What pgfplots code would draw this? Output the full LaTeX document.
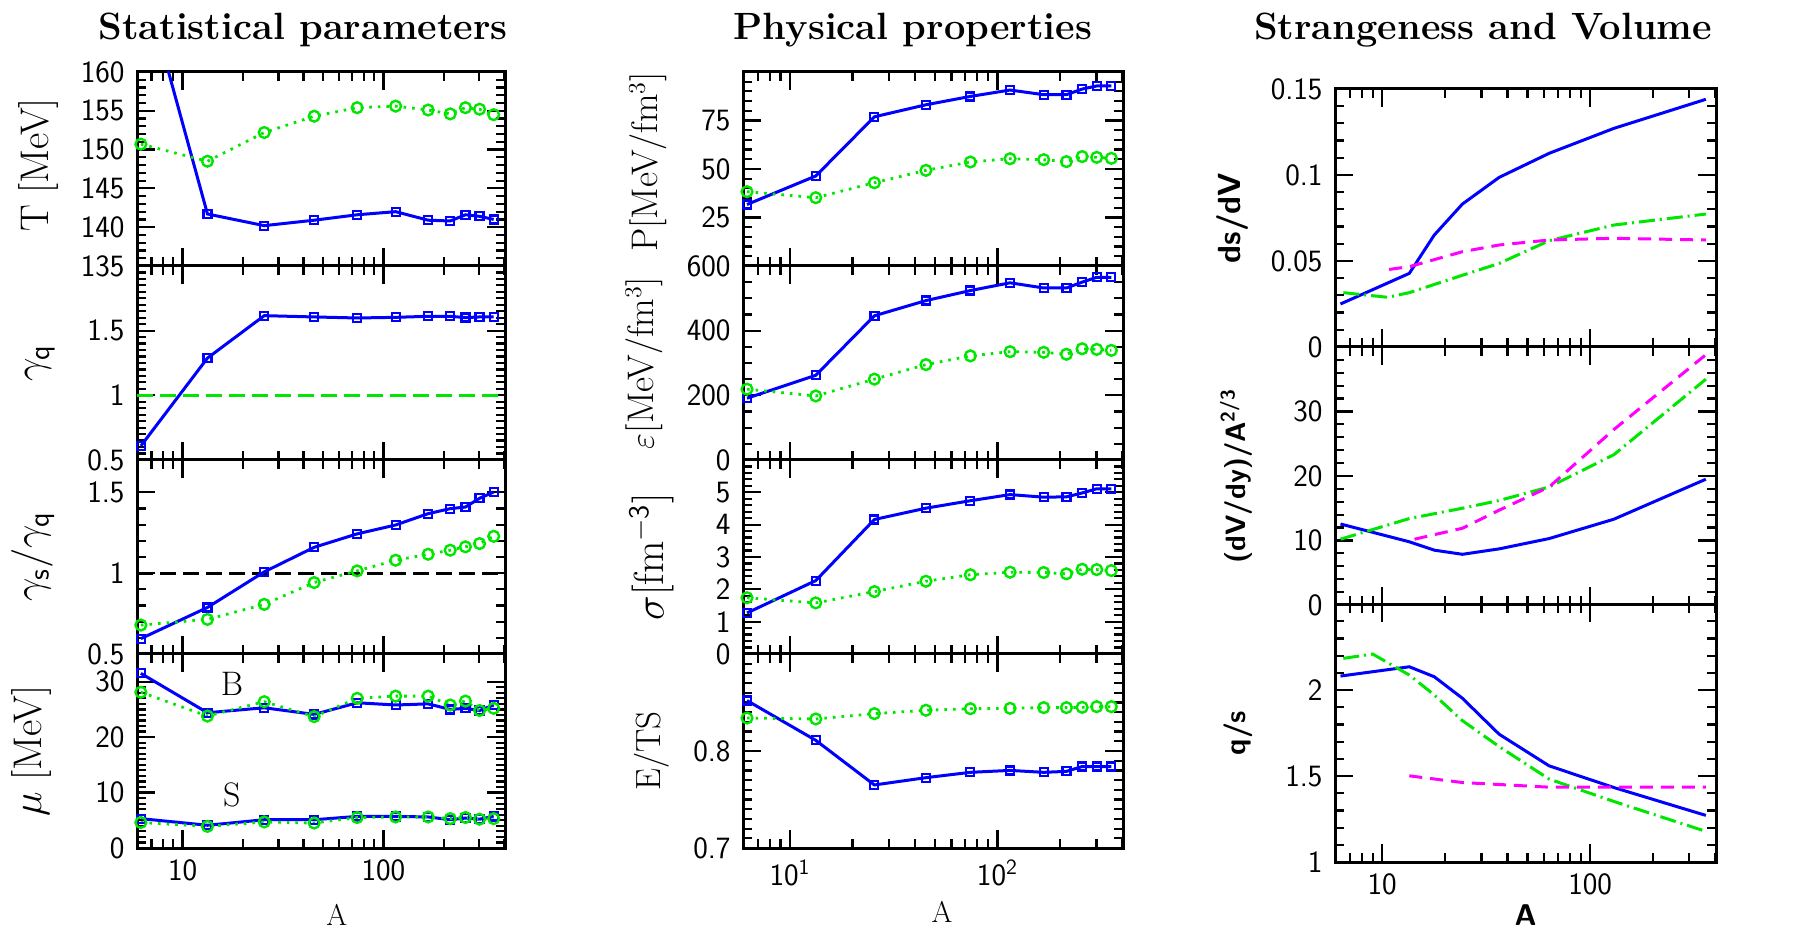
\documentclass[border=0pt]{standalone}
\usepackage{pgfplots}
\pgfplotsset{compat=1.18}
\definecolor{cb}{RGB}{0,0,255}
\definecolor{cg}{RGB}{0,230,0}
\definecolor{cm}{RGB}{255,0,255}
\pgfplotsset{
  scale only axis, xmin=5.93, xmax=403,
  tick pos=both, tick align=inside, major tick length=9pt, minor tick length=4.5pt,
  every tick/.append style={black, line width=1.1pt},
  every minor tick/.append style={line width=1.1pt},
  axis line style={line width=1.5pt},
  xtick={10,100}, minor xtick={6,7,8,9,20,30,40,50,60,70,80,90,200,300,400},
  xticklabels={},
  yticklabel style={font=\fontsize{15.5}{17}\sffamily, xshift=-2.7pt},
  xticklabel style={font=\fontsize{15.5}{17}\sffamily, yshift=-2.5pt},
  ylabel style={font=\fontsize{20}{22}\selectfont, anchor=center},
  xlabel style={font=\fontsize{15}{17}\selectfont, anchor=center},
}
\tikzset{
  serB/.style={color=cb, line width=1.5pt, mark=square, mark size=2pt, mark options={solid, line width=1.1pt}},
  serG/.style={color=cg, line width=1.4pt, dash pattern=on 1.3pt off 3pt, mark=o, mark size=2.7pt, mark options={solid, line width=1.2pt}},
  linB/.style={color=cb, line width=1.5pt, mark=none},
  linG/.style={color=cg, line width=1.5pt, mark=none, dash pattern=on 8pt off 2.5pt on 1pt off 2.5pt},
  linM/.style={color=cm, line width=1.5pt, mark=none, dash pattern=on 6.5pt off 4pt},
}
\begin{document}
\begin{tikzpicture}
\useasboundingbox (0,0) rectangle (909pt,465.5pt);
\node[anchor=base, font=\fontsize{19}{22}\selectfont\bfseries] at (151.5pt,445.5pt) {Statistical parameters};
\node[anchor=base, font=\fontsize{19}{22}\selectfont\bfseries] at (456.5pt,445.5pt) {Physical properties};
\node[anchor=base, font=\fontsize{19}{22}\selectfont\bfseries] at (741.5pt,445.5pt) {Strangeness and Volume};

% ---------------- Left column ----------------
\begin{semilogxaxis}[width=184pt, height=97pt, anchor=south west, at={(68.5pt,332.5pt)}, ymin=135, ymax=160,
  ytick={135,140,...,160}, yticklabels={135,140,145,150,155,160}, minor y tick num=4,
  ylabel={T [MeV]}, ylabel style={at={(axis description cs:-0.269,0.52)}}]
\addplot[serB, mark=none] coordinates {(6.2,173) (13.3,141.7) (25.5,140.2) (45.2,140.9) (74,141.6) (115,142.0) (167,140.9) (215,140.8) (256,141.6) (301,141.4) (354,141.0)};
\addplot[serB, only marks] coordinates {(13.3,141.7) (25.5,140.2) (45.2,140.9) (74,141.6) (115,142.0) (167,140.9) (215,140.8) (256,141.6) (301,141.4) (354,141.0)};
\addplot[serG] coordinates {(6.2,150.7) (13.3,148.5) (25.5,152.2) (45.2,154.3) (74,155.4) (115,155.6) (167,155.1) (215,154.6) (256,155.4) (301,155.2) (354,154.5)};
\end{semilogxaxis}

\begin{semilogxaxis}[width=184pt, height=97pt, anchor=south west, at={(68.5pt,235.5pt)}, ymin=0.5, ymax=2.0,
  ytick={0.5,1,1.5,2}, yticklabels={0.5,1,1.5,}, minor y tick num=9,
  ylabel={$\gamma_{\mathsf{q}}$}, ylabel style={at={(axis description cs:-0.264,0.5)}, font=\fontsize{22}{24}\selectfont}]
\addplot[color=cg, line width=1.4pt, dash pattern=on 8pt off 3.5pt] coordinates {(5.93,1) (403,1)};
\addplot[serB] coordinates {(6.2,0.609) (13.3,1.288) (25.5,1.616) (45.2,1.606) (74,1.598) (115,1.603) (167,1.611) (215,1.611) (256,1.601) (301,1.606) (354,1.606)};
\end{semilogxaxis}

\begin{semilogxaxis}[width=184pt, height=97pt, anchor=south west, at={(68.5pt,138.5pt)}, ymin=0.5, ymax=1.7,
  ytick={0.5,1,1.5}, yticklabels={0.5,1,1.5}, minor y tick num=4,
  ylabel={$\gamma_{\mathsf{s}}/\gamma_{\mathsf{q}}$}, ylabel style={at={(axis description cs:-0.283,0.5)}, font=\fontsize{22}{24}\selectfont}]
\addplot[color=black, line width=1.4pt, dash pattern=on 8pt off 3.5pt] coordinates {(5.93,1) (403,1)};
\addplot[serB] coordinates {(6.2,0.595) (13.3,0.788) (25.5,1.008) (45.2,1.160) (74,1.243) (115,1.298) (167,1.368) (215,1.399) (256,1.409) (301,1.463) (354,1.502)};
\addplot[serG] coordinates {(6.2,0.679) (13.3,0.714) (25.5,0.807) (45.2,0.942) (74,1.014) (115,1.080) (167,1.117) (215,1.142) (256,1.163) (301,1.183) (354,1.228)};
\end{semilogxaxis}

\begin{semilogxaxis}[width=184pt, height=97pt, anchor=south west, at={(68.5pt,41.5pt)}, ymin=0, ymax=35,
  ytick={0,10,20,30}, yticklabels={0,10,20,30}, minor y tick num=9,
  xticklabels={10,100},
  ylabel={$\mu$ [MeV]}, ylabel style={at={(axis description cs:-0.288,0.5)}},
  xlabel={A}, xlabel style={at={(axis description cs:0.543,-0.345)}}]
\addplot[serB] coordinates {(6.2,31.5) (13.3,24.4) (25.5,25.3) (45.2,24.1) (74,26.2) (115,25.8) (167,26.0) (215,25.0) (256,25.2) (301,24.8) (354,25.8)};
\addplot[serG] coordinates {(6.2,28.1) (13.3,23.8) (25.5,26.4) (45.2,23.7) (74,27.0) (115,27.4) (167,27.4) (215,25.8) (256,26.5) (301,24.8) (354,25.2)};
\addplot[serB] coordinates {(6.2,5.3) (13.3,4.1) (25.5,5.1) (45.2,5.1) (74,5.7) (115,5.7) (167,5.6) (215,5.1) (256,5.4) (301,5.2) (354,5.7)};
\addplot[serG] coordinates {(6.2,4.6) (13.3,3.9) (25.5,4.7) (45.2,4.5) (74,5.5) (115,5.6) (167,5.6) (215,5.3) (256,5.5) (301,5.2) (354,5.3)};
\node[font=\fontsize{17}{19}\selectfont] at (axis cs:17.6,29.6) {B};
\node[font=\fontsize{17}{19}\selectfont] at (axis cs:17.6,9.6) {S};
\end{semilogxaxis}

% ---------------- Middle column ----------------
\begin{semilogxaxis}[width=190pt, height=97pt, anchor=south west, at={(371.5pt,332.5pt)}, ymin=0, ymax=100,
  ytick={0,25,50,75,100}, yticklabels={,25,50,75,}, minor y tick num=4,
  ylabel={P[MeV/fm$^{3}$]}, ylabel style={at={(axis description cs:-0.25,0.536)}, font=\fontsize{18.5}{20}\selectfont}]
\addplot[serB] coordinates {(6.2,31.7) (13.3,46.4) (25.5,76.9) (45.2,83.1) (74,87.4) (115,90.7) (167,88.3) (215,88.3) (256,91.2) (301,92.8) (354,92.8)};
\addplot[serG] coordinates {(6.2,38.3) (13.3,35.2) (25.5,42.9) (45.2,49.3) (74,53.6) (115,55.3) (167,54.8) (215,53.8) (256,56.4) (301,56.0) (354,55.5)};
\end{semilogxaxis}

\begin{semilogxaxis}[width=190pt, height=97pt, anchor=south west, at={(371.5pt,235.5pt)}, ymin=0, ymax=600,
  ytick={0,200,400,600}, yticklabels={0,200,400,600}, minor y tick num=3,
  ylabel={$\varepsilon$[MeV/fm$^{3}$]}, ylabel style={at={(axis description cs:-0.26,0.5)}, font=\fontsize{18.5}{20}\selectfont}]
\addplot[serB] coordinates {(6.2,191) (13.3,262) (25.5,446) (45.2,493) (74,524) (115,548) (167,532) (215,532) (256,550) (301,565) (354,565)};
\addplot[serG] coordinates {(6.2,219) (13.3,198) (25.5,250) (45.2,295) (74,322) (115,335) (167,333) (215,327) (256,344) (301,342) (354,339)};
\end{semilogxaxis}

\begin{semilogxaxis}[width=190pt, height=97pt, anchor=south west, at={(371.5pt,138.5pt)}, ymin=0, ymax=6,
  ytick={0,1,2,3,4,5,6}, yticklabels={0,1,2,3,4,5,}, minor y tick num=4,
  ylabel={$\sigma$[fm$^{\mathsf{-3}}$]}, ylabel style={at={(axis description cs:-0.24,0.5)}, font=\fontsize{21}{23}\selectfont}]
\addplot[serB] coordinates {(6.2,1.27) (13.3,2.27) (25.5,4.16) (45.2,4.51) (74,4.74) (115,4.93) (167,4.85) (215,4.86) (256,4.98) (301,5.11) (354,5.11)};
\addplot[serG] coordinates {(6.2,1.74) (13.3,1.58) (25.5,1.93) (45.2,2.25) (74,2.45) (115,2.53) (167,2.52) (215,2.48) (256,2.62) (301,2.61) (354,2.58)};
\end{semilogxaxis}

\begin{semilogxaxis}[width=190pt, height=97pt, anchor=south west, at={(371.5pt,41.5pt)}, ymin=0.7, ymax=0.9,
  ytick={0.7,0.8,0.9}, yticklabels={0.7,0.8,}, minor y tick num=9,
  xticklabels={10\textsuperscript{1},10\textsuperscript{2}},
  ylabel={E/TS}, ylabel style={at={(axis description cs:-0.24,0.5)}, font=\fontsize{17.5}{19}\selectfont},
  xlabel={A}, xlabel style={at={(axis description cs:0.524,-0.33)}}]
\addplot[serB] coordinates {(6.2,0.852) (13.3,0.811) (25.5,0.765) (45.2,0.7725) (74,0.778) (115,0.780) (167,0.778) (215,0.779) (256,0.784) (301,0.784) (354,0.784)};
\addplot[serG] coordinates {(6.2,0.834) (13.3,0.833) (25.5,0.8385) (45.2,0.842) (74,0.8436) (115,0.844) (167,0.8447) (215,0.8447) (256,0.845) (301,0.8457) (354,0.8457)};
\end{semilogxaxis}

% ---------------- Right column ----------------
\begin{semilogxaxis}[width=190.5pt, height=129pt, anchor=south west, at={(667.5pt,292pt)}, ymin=0, ymax=0.15,
  ytick={0,0.05,0.1,0.15}, yticklabels={0,0.05,0.1,0.15}, minor y tick num=4,
  ylabel={ds/dV}, ylabel style={at={(axis description cs:-0.27,0.5)}, font=\fontsize{16}{18}\sffamily\bfseries}]
\addplot[linB] coordinates {(6.3,0.025) (13.5,0.0428) (17.8,0.0651) (24.3,0.0831) (36.5,0.0986) (63.5,0.1126) (130,0.1271) (360,0.144)};
\addplot[linG] coordinates {(6.5,0.0316) (10.6,0.0289) (13.5,0.0316) (24.3,0.0417) (36.5,0.0486) (63.5,0.0618) (130,0.0709) (360,0.0773)};
\addplot[linM] coordinates {(10.8,0.0451) (13.5,0.0467) (24.3,0.0554) (36.5,0.0593) (63.5,0.0622) (130,0.0632) (360,0.0622)};
\end{semilogxaxis}

\begin{semilogxaxis}[width=190.5pt, height=129pt, anchor=south west, at={(667.5pt,163pt)}, ymin=0, ymax=40,
  ytick={0,10,20,30,40}, yticklabels={0,10,20,30,}, minor y tick num=4,
  ylabel={(dV/dy)/A\textsuperscript{2/3}}, ylabel style={at={(axis description cs:-0.26,0.5)}, font=\fontsize{14}{16}\sffamily\bfseries}]
\addplot[linB] coordinates {(6.3,12.56) (13.5,9.8) (17.8,8.5) (24.3,7.86) (36.5,8.7) (63.5,10.3) (130,13.3) (360,19.5)};
\addplot[linG] coordinates {(6.3,10.2) (13.5,13.4) (24.3,15.0) (36.5,16.2) (63.5,18.3) (130,23.3) (360,35.0)};
\addplot[linM] coordinates {(14.3,10.2) (24.3,11.9) (36.5,14.7) (63.5,18.3) (130,27.2) (360,38.8)};
\end{semilogxaxis}

\begin{semilogxaxis}[width=190.5pt, height=129pt, anchor=south west, at={(667.5pt,34.5pt)}, ymin=1, ymax=2.5,
  ytick={1,1.5,2,2.5}, yticklabels={1,1.5,2,}, minor y tick num=4,
  xticklabels={10,100},
  ylabel={q/s}, ylabel style={at={(axis description cs:-0.255,0.5)}, font=\fontsize{14.5}{16}\sffamily\bfseries},
  xlabel={A}, xlabel style={at={(axis description cs:0.5,-0.205)}, font=\fontsize{15}{17}\sffamily\bfseries}]
\addplot[linB] coordinates {(6.3,2.081) (13.5,2.135) (17.8,2.077) (24.3,1.952) (36.5,1.743) (63.5,1.559) (130,1.433) (360,1.271)};
\addplot[linG] coordinates {(6.5,2.184) (9.0,2.209) (13.5,2.087) (17.8,1.971) (24.3,1.822) (36.5,1.671) (63.5,1.482) (130,1.352) (360,1.178)};
\addplot[linM] coordinates {(13.5,1.501) (24.3,1.462) (63.5,1.435) (130,1.435) (360,1.435)};
\end{semilogxaxis}
\end{tikzpicture}
\end{document}
